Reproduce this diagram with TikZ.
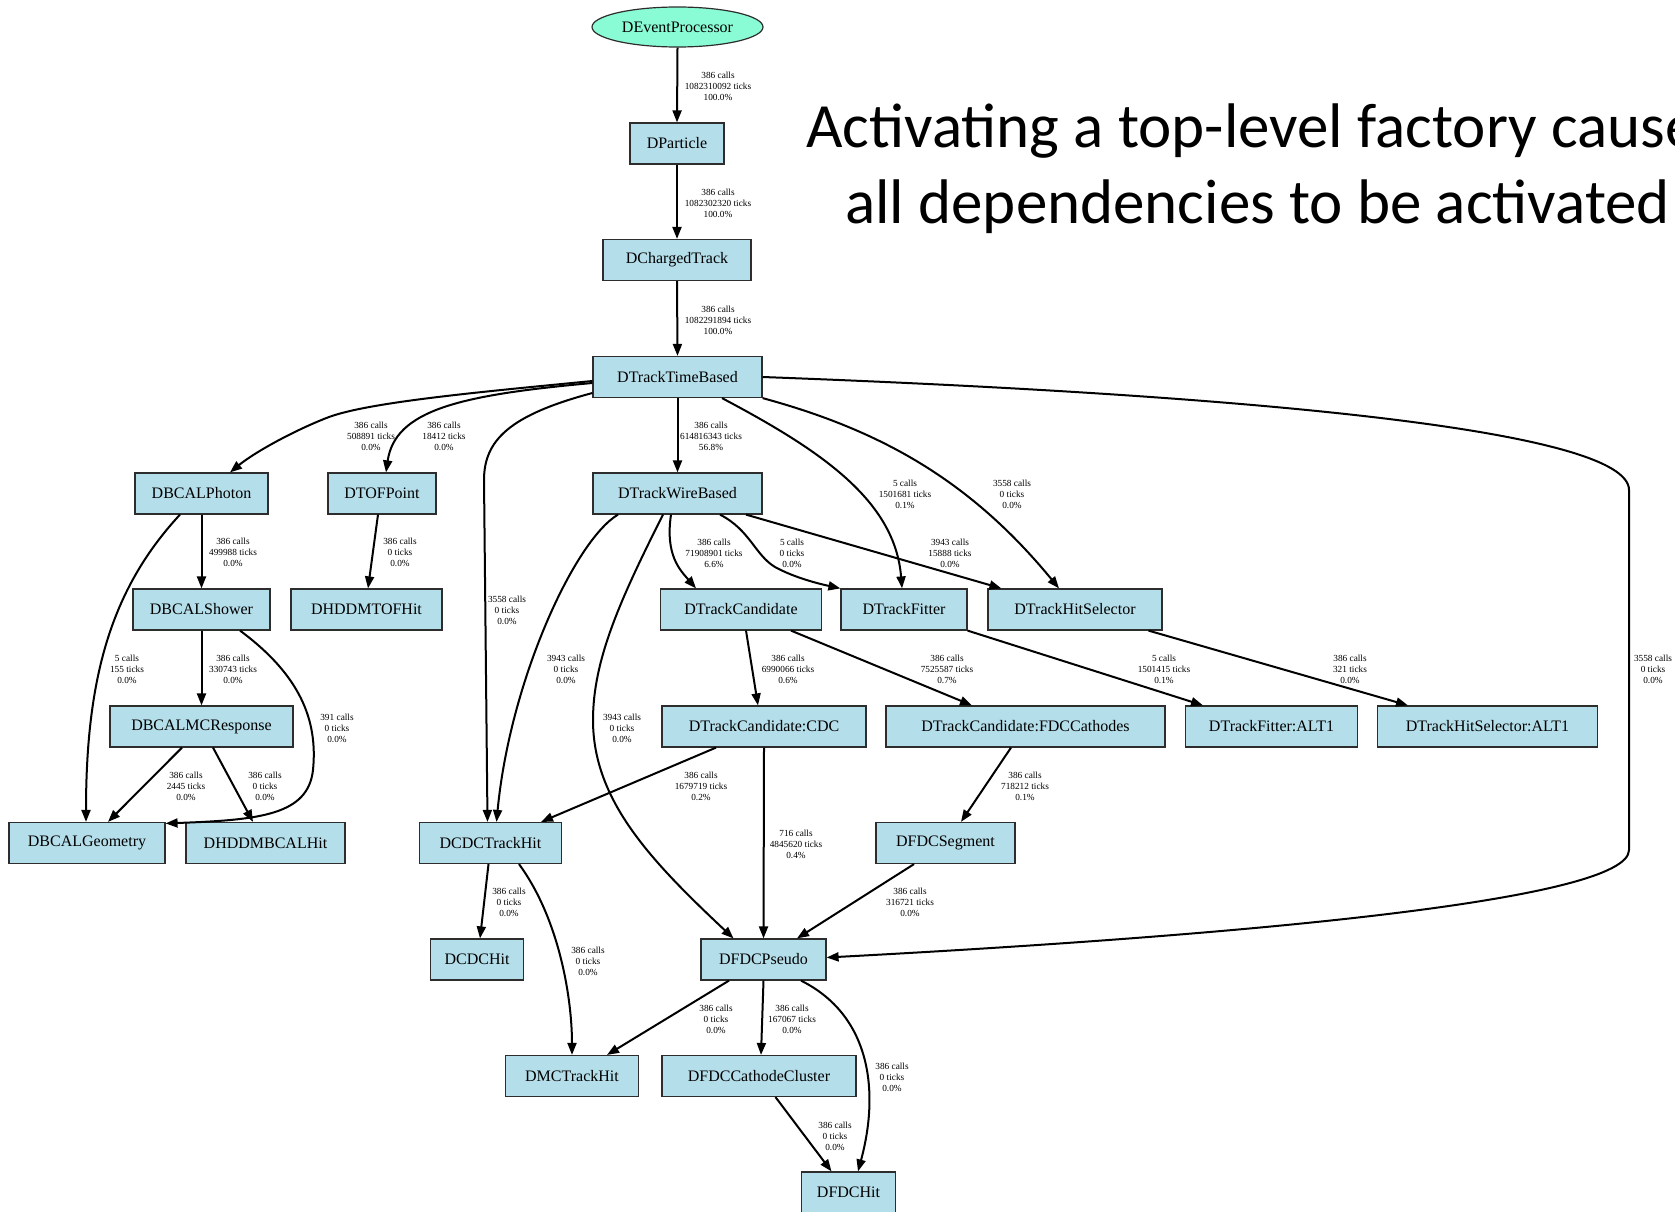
\documentclass[tikz,border=0pt]{standalone}
\usepackage{fontspec}
\setmainfont{Liberation Serif}
\newfontfamily\titlefont{Carlito}
\usetikzlibrary{arrows.meta,shapes.geometric}
\definecolor{boxfill}{RGB}{180,222,234}
\definecolor{boxline}{RGB}{45,45,45}
\definecolor{epfill}{RGB}{137,252,214}
\begin{document}
\begin{tikzpicture}[x=1pt,y=-1pt,
  box/.style={draw=boxline, line width=1.2pt, fill=boxfill, minimum height=41pt, inner sep=0pt, font=\fontsize{16}{16}\selectfont},
  edge/.style={line width=2pt, -{Triangle[length=12pt,width=9pt]}},
  lbl/.style={font=\fontsize{9.3}{11}\selectfont, align=center, inner sep=0pt},
  ttl/.style={font=\titlefont\fontsize{63}{63}\selectfont, inner sep=0pt, anchor=base west}
]
\useasboundingbox (0,0) rectangle (1675,1212);
\clip (0,0) rectangle (1675,1212);
\fill[white] (0,0) rectangle (1675,1212);

% title
\node[ttl] (t1) at (806,147) {Activating a top-level factory causes};
\node[ttl] (t2) at (845,223) {all dependencies to be activated};

% nodes
\node[ellipse, draw=boxline, line width=1.2pt, fill=epfill, minimum width=171pt, minimum height=40pt, inner sep=0pt, font=\fontsize{16}{16}\selectfont] (ep) at (677.5,27) {DEventProcessor};
\node[box, minimum width=94pt]  (dp) at (677,143.5) {DParticle};
\node[box, minimum width=148pt] (ct) at (677,260) {DChargedTrack};
\node[box, minimum width=169pt] (tb) at (677.5,377) {DTrackTimeBased};
\node[box, minimum width=133pt] (bcalp) at (201.5,493.5) {DBCALPhoton};
\node[box, minimum width=108pt] (tof) at (382,493.5) {DTOFPoint};
\node[box, minimum width=169pt] (twb) at (677.5,493.5) {DTrackWireBased};
\node[box, minimum width=137pt] (bcals) at (201.5,609.5) {DBCALShower};
\node[box, minimum width=151pt] (tofhit) at (366.5,609.5) {DHDDMTOFHit};
\node[box, minimum width=161pt] (tc) at (741,609.5) {DTrackCandidate};
\node[box, minimum width=126pt] (tf) at (904,609.5) {DTrackFitter};
\node[box, minimum width=174pt] (ths) at (1075,609.5) {DTrackHitSelector};
\node[box, minimum width=183pt] (bcalmc) at (201.5,726.5) {DBCALMCResponse};
\node[box, minimum width=204pt] (tccdc) at (764,726.5) {DTrackCandidate:CDC};
\node[box, minimum width=279pt] (tcfdc) at (1025.5,726.5) {DTrackCandidate:FDCCathodes};
\node[box, minimum width=172pt] (tfalt) at (1271.5,726.5) {DTrackFitter:ALT1};
\node[box, minimum width=220pt] (thsalt) at (1487.5,726.5) {DTrackHitSelector:ALT1};
\node[box, minimum width=156pt] (bcalgeo) at (87,843) {DBCALGeometry};
\node[box, minimum width=159pt] (bcalhit) at (265.5,843) {DHDDMBCALHit};
\node[box, minimum width=142pt] (cdcth) at (490.5,843) {DCDCTrackHit};
\node[box, minimum width=139pt] (fdcseg) at (945.5,843) {DFDCSegment};
\node[box, minimum width=93pt]  (cdchit) at (477,959.5) {DCDCHit};
\node[box, minimum width=125pt] (fdcp) at (763.5,959.5) {DFDCPseudo};
\node[box, minimum width=133pt] (mcth) at (572,1076) {DMCTrackHit};
\node[box, minimum width=194pt] (fdccc) at (759,1076) {DFDCCathodeCluster};
\node[box, minimum width=94pt]  (fdchit) at (848.5,1192.5) {DFDCHit};

% edges
\draw[edge] (ep.south) -- (dp.north);
\draw[edge] (dp.south) -- (ct.north);
\draw[edge] (ct.south) -- (tb.north);
\draw[edge] (tb.south) -- (twb.north);
\draw[edge] ([yshift=-4pt]tb.west) .. controls (480,392) and (370,402) .. (329,417) .. controls (295,430) and (255,452) .. ([xshift=28.5pt]bcalp.north);
\draw[edge] ([yshift=-6pt]tb.west) .. controls (460,395) and (395,410) .. ([xshift=4pt]tof.north);
\draw[edge] ([yshift=-16pt]tb.west) .. controls (510,415) and (484,440) .. (484,480) -- ([xshift=-3pt]cdcth.north);
\draw[edge] ([xshift=44.5pt]tb.south) .. controls (820,450) and (895,500) .. ([xshift=-2pt]tf.north);
\draw[edge] (tb.south east) .. controls (880,430) and (970,480) .. ([xshift=-16pt]ths.north);
\draw[edge] (tb.east) .. controls (1250,395) and (1629,430) .. (1629,490) -- (1629,850) .. controls (1629,900) and (1250,935) .. ([yshift=2pt]fdcp.east);
\draw[edge] (bcalp.south) -- (bcals.north);
\draw[edge] ([xshift=-21.5pt]bcalp.south) .. controls (110,590) and (86,680) .. ([xshift=-1pt]bcalgeo.north);
\draw[edge] ([xshift=-4pt]tof.south) -- ([xshift=1.5pt]tofhit.north);
\draw[edge] (bcals.south) -- (bcalmc.north);
\draw[edge] ([xshift=38.5pt]bcals.south) .. controls (300,675) and (318,720) .. (313,770) .. controls (308,815) and (260,820) .. ([yshift=-1.5pt]bcalgeo.north east);
\draw[edge] ([xshift=-19.5pt]bcalmc.south) -- ([xshift=21pt]bcalgeo.north);
\draw[edge] ([xshift=11.5pt]bcalmc.south) -- ([xshift=-12.5pt]bcalhit.north);
\draw[edge] ([xshift=-59.5pt]twb.south) .. controls (575,540) and (510,680) .. ([xshift=6pt]cdcth.north);
\draw[edge] ([xshift=-14.5pt]twb.south) .. controls (620,600) and (593,660) .. (593,720) .. controls (593,800) and (650,860) .. ([xshift=-30pt]fdcp.north);
\draw[edge] ([xshift=-6.5pt]twb.south) .. controls (665,555) and (680,570) .. ([xshift=-45pt]tc.north);
\draw[edge] ([xshift=42.5pt]twb.south) .. controls (750,530) and (755,555) .. (775,567) .. controls (795,578) and (820,584) .. (tf.north west);
\draw[edge] ([xshift=68.5pt]twb.south) -- ([xshift=14pt]ths.north west);
\draw[edge] ([xshift=5pt]tc.south) -- ([xshift=-6pt]tccdc.north);
\draw[edge] ([xshift=50pt]tc.south) -- ([xshift=-53.5pt]tcfdc.north);
\draw[edge] (tf.south east) -- ([xshift=-68.5pt]tfalt.north);
\draw[edge] ([xshift=73.5pt]ths.south) -- ([xshift=-79.5pt]thsalt.north);
\draw[edge] ([xshift=-48pt]tccdc.south) -- ([xshift=50.5pt]cdcth.north);
\draw[edge] (tccdc.south) -- (fdcp.north);
\draw[edge] ([xshift=-14.5pt]tcfdc.south) -- ([xshift=15.5pt]fdcseg.north);
\draw[edge] ([xshift=-31.5pt]fdcseg.south) -- ([xshift=33.5pt]fdcp.north);
\draw[edge] ([xshift=-2pt]cdcth.south) -- ([xshift=3pt]cdchit.north);
\draw[edge] ([xshift=28.5pt]cdcth.south) .. controls (560,920) and (572,1000) .. (mcth.north);
\draw[edge] ([xshift=-34.5pt]fdcp.south) -- ([xshift=35pt]mcth.north);
\draw[edge] (fdcp.south) -- ([xshift=2pt]fdccc.north);
\draw[edge] ([xshift=37.5pt]fdcp.south) .. controls (870,1015) and (880,1090) .. ([xshift=9.5pt]fdchit.north);
\draw[edge] ([xshift=16.5pt]fdccc.south) -- ([xshift=-17pt]fdchit.north);

% labels
\node[lbl] (l1) at (718,86) {386 calls\\1082310092 ticks\\100.0\%};
\node[lbl] (l2) at (718,203) {386 calls\\1082302320 ticks\\100.0\%};
\node[lbl] (l3) at (718,320) {386 calls\\1082291894 ticks\\100.0\%};
\node[lbl] (l4) at (371,436) {386 calls\\508891 ticks\\0.0\%};
\node[lbl] (l5) at (444,436) {386 calls\\18412 ticks\\0.0\%};
\node[lbl] (l6) at (711,436) {386 calls\\614816343 ticks\\56.8\%};
\node[lbl] (l7) at (905,494) {5 calls\\1501681 ticks\\0.1\%};
\node[lbl] (l8) at (1012,494) {3558 calls\\0 ticks\\0.0\%};
\node[lbl] (l9) at (1653,669) {3558 calls\\0 ticks\\0.0\%};
\node[lbl] (l10) at (507,610) {3558 calls\\0 ticks\\0.0\%};
\node[lbl] (l11) at (233,552) {386 calls\\499988 ticks\\0.0\%};
\node[lbl] (l12) at (400,552) {386 calls\\0 ticks\\0.0\%};
\node[lbl] (l13) at (127,669) {5 calls\\155 ticks\\0.0\%};
\node[lbl] (l14) at (233,669) {386 calls\\330743 ticks\\0.0\%};
\node[lbl] (l15) at (337,728) {391 calls\\0 ticks\\0.0\%};
\node[lbl] (l16) at (186,786) {386 calls\\2445 ticks\\0.0\%};
\node[lbl] (l17) at (265,786) {386 calls\\0 ticks\\0.0\%};
\node[lbl] (l18) at (566,669) {3943 calls\\0 ticks\\0.0\%};
\node[lbl] (l19) at (622,728) {3943 calls\\0 ticks\\0.0\%};
\node[lbl] (l20) at (714,553) {386 calls\\71908901 ticks\\6.6\%};
\node[lbl] (l21) at (792,553) {5 calls\\0 ticks\\0.0\%};
\node[lbl] (l22) at (950,553) {3943 calls\\15888 ticks\\0.0\%};
\node[lbl] (l23) at (788,669) {386 calls\\6990066 ticks\\0.6\%};
\node[lbl] (l24) at (947,669) {386 calls\\7525587 ticks\\0.7\%};
\node[lbl] (l25) at (1164,669) {5 calls\\1501415 ticks\\0.1\%};
\node[lbl] (l26) at (1350,669) {386 calls\\321 ticks\\0.0\%};
\node[lbl] (l27) at (701,786) {386 calls\\1679719 ticks\\0.2\%};
\node[lbl] (l28) at (796,844) {716 calls\\4845620 ticks\\0.4\%};
\node[lbl] (l29) at (1025,786) {386 calls\\718212 ticks\\0.1\%};
\node[lbl] (l30) at (910,902) {386 calls\\316721 ticks\\0.0\%};
\node[lbl] (l31) at (509,902) {386 calls\\0 ticks\\0.0\%};
\node[lbl] (l32) at (588,961) {386 calls\\0 ticks\\0.0\%};
\node[lbl] (l33) at (716,1019) {386 calls\\0 ticks\\0.0\%};
\node[lbl] (l34) at (792,1019) {386 calls\\167067 ticks\\0.0\%};
\node[lbl] (l35) at (892,1077) {386 calls\\0 ticks\\0.0\%};
\node[lbl] (l36) at (835,1136) {386 calls\\0 ticks\\0.0\%};
\end{tikzpicture}
\end{document}
